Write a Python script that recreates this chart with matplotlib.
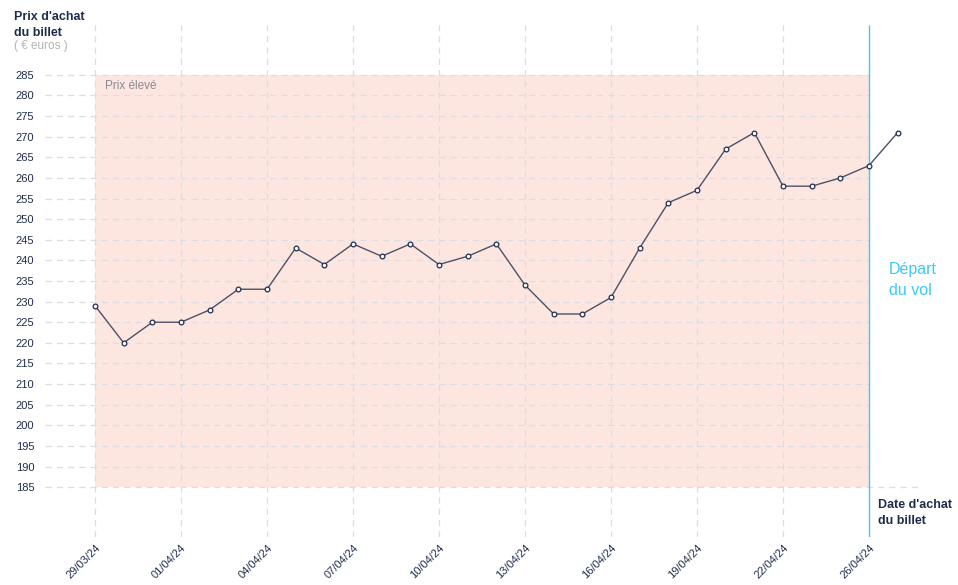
import matplotlib
matplotlib.use("Agg")
import matplotlib.pyplot as plt

plt.rcParams['font.family'] = ['Liberation Sans', 'DejaVu Sans']

# prix relevés, un point par jour depuis le 29/03/24
prix = [229, 220, 225, 225, 228, 233, 233, 243, 239, 244,
        241, 244, 239, 241, 244, 234, 227, 227, 231, 243,
        254, 257, 267, 271, 258, 258, 260, 263, 271]
jours = list(range(len(prix)))

tick_pos = [0, 3, 6, 9, 12, 15, 18, 21, 24, 27]
tick_labels = ["29/03/24", "01/04/24", "04/04/24", "07/04/24", "10/04/24",
               "13/04/24", "16/04/24", "19/04/24", "22/04/24", "26/04/24"]
y_ticks = list(range(185, 290, 5))

depart = 27
zone_bas, zone_haut = 185, 285

navy = '#1f2d4d'
line_col = '#4b5168'
grid_col = '#dcdde2'
cyan = '#3ec8f2'

W, H = 958, 585
fig = plt.figure(figsize=(W / 100, H / 100), dpi=100)
# axes from pixel x 42..918, y 25..537
ax = fig.add_axes([42 / W, 1 - 537 / H, 876 / W, 512 / H])
ax.set_xlim(-1.85, 28.71)
ax.set_ylim(172.9, 297.1)
for s in ax.spines.values():
    s.set_visible(False)

# zone "prix élevé"
ax.fill_between([0, depart], zone_bas, zone_haut, color='#fde6e0', lw=0, zorder=0)
ax.text(0.35, 282.3, "Prix élevé", color='#8a8a92', fontsize=8.5, va='center')

# grille
for v in y_ticks:
    xmax = 28.7 if v == zone_bas else depart
    ax.hlines(v, -1.75, xmax, colors=grid_col, lw=0.9, linestyles=(0, (5, 4)), zorder=1)
ax.vlines(tick_pos[:-1], 172.9, 297.1, colors=grid_col, lw=0.9,
          linestyles=(0, (5, 4)), zorder=1)
ax.vlines(depart, 172.9, 297.1, colors=cyan, lw=1.0, zorder=2)

ax.plot(jours, prix, color=line_col, lw=1.0, marker='o', ms=3.4,
        mfc='white', mec=navy, mew=0.9, zorder=3)

ax.set_yticks(y_ticks)
ax.set_yticklabels([str(v) for v in y_ticks], ha='left', fontsize=8, color=navy)
ax.tick_params(axis='y', length=0, pad=19)
ax.set_xticks(tick_pos)
ax.set_xticklabels(tick_labels, rotation=45, ha='right', va='top',
                   rotation_mode='anchor', fontsize=8, color=navy)
ax.tick_params(axis='x', length=0, pad=4)

# textes
fig.text(14 / W, 1 - 25 / H, "Prix d'achat\ndu billet", fontsize=9, fontweight='bold',
         color=navy, va='center', linespacing=1.35)
fig.text(14 / W, 1 - 46 / H, "( € euros )", fontsize=8.5, color='#b4b4b8', va='center')
fig.text(878 / W, 1 - 513 / H, "Date d'achat\ndu billet", fontsize=9, fontweight='bold',
         color=navy, va='center', linespacing=1.35)
fig.text(889 / W, 1 - 280 / H, "Départ\ndu vol", fontsize=11.5, color=cyan,
         va='center', linespacing=1.45)

fig.savefig("out.png", dpi=100)
